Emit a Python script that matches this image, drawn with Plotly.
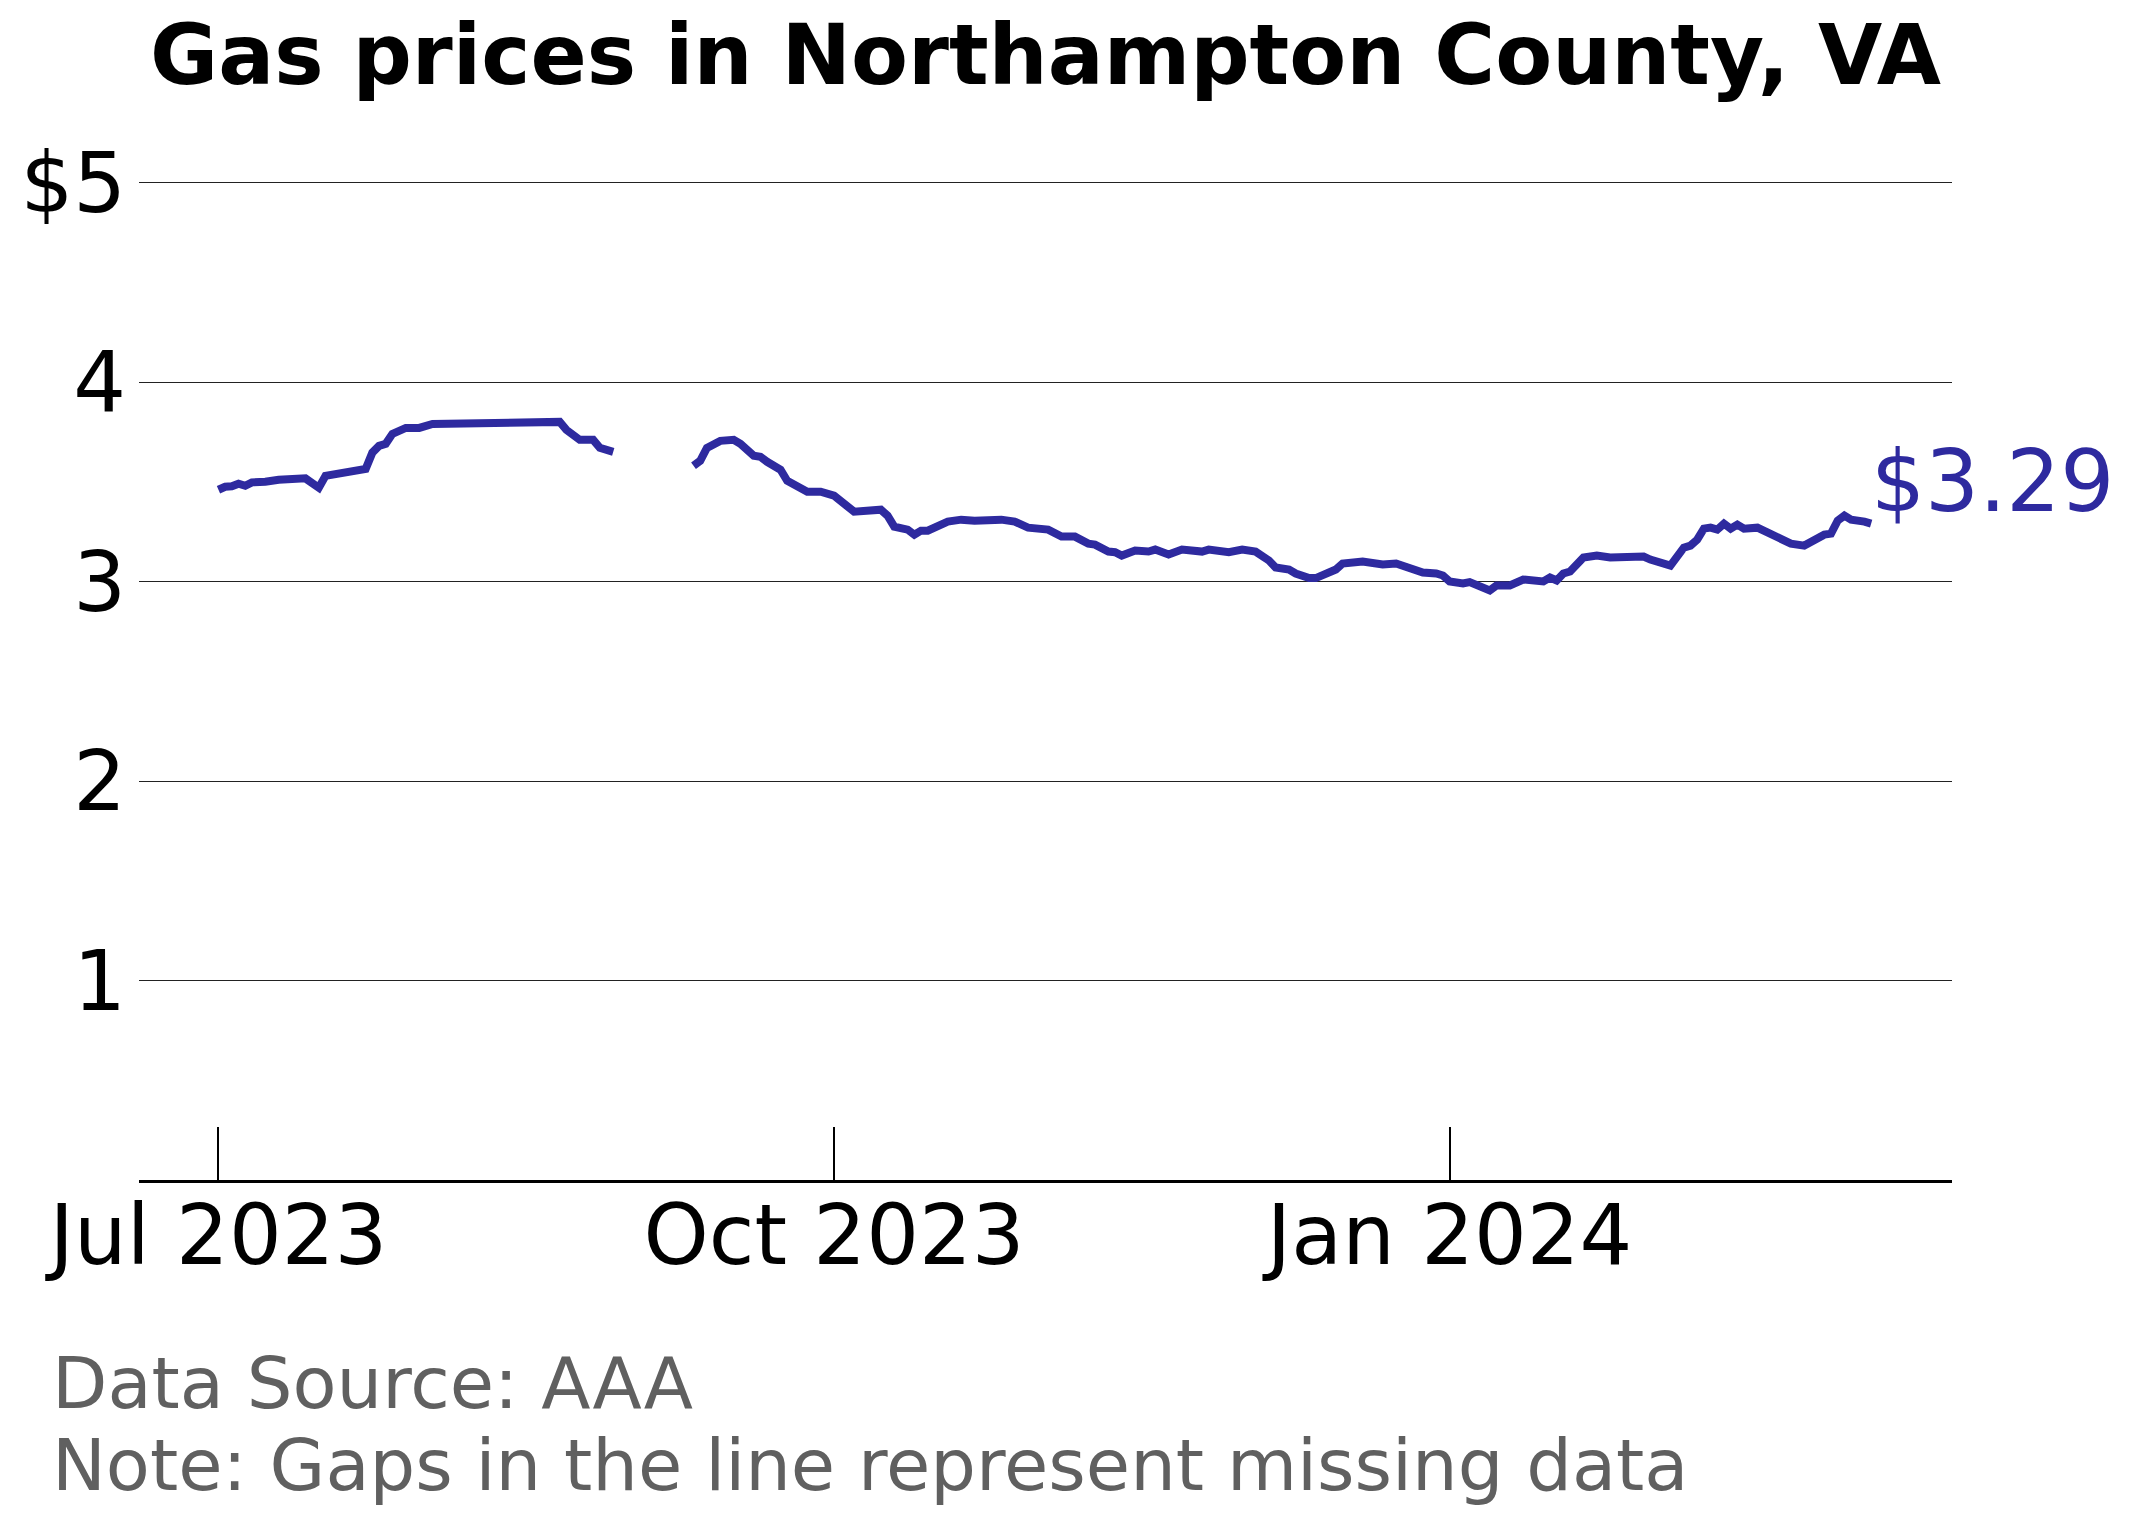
"""
Gas prices in Northampton County, VA: daily AAA average, Jul 2023 - Mar 2024.
Writes out.html
"""
import plotly.graph_objects as go

# Values; None marks the missing-data gap
dates = [
    "2023-07-01", "2023-07-02", "2023-07-03", "2023-07-04", "2023-07-05",
    "2023-07-06", "2023-07-08", "2023-07-10", "2023-07-14", "2023-07-16",
    "2023-07-17", "2023-07-20", "2023-07-23", "2023-07-24", "2023-07-25",
    "2023-07-26", "2023-07-27", "2023-07-29", "2023-07-31", "2023-08-02",
    "2023-08-03", "2023-08-10", "2023-08-12", "2023-08-14", "2023-08-16",
    "2023-08-21", "2023-08-22", "2023-08-24", "2023-08-26", "2023-08-27",
    "2023-08-29", "2023-09-04",
    "2023-09-10", "2023-09-11", "2023-09-12", "2023-09-13", "2023-09-14",
    "2023-09-16", "2023-09-17", "2023-09-19", "2023-09-20", "2023-09-21",
    "2023-09-23", "2023-09-24", "2023-09-26", "2023-09-27", "2023-09-29",
    "2023-10-01", "2023-10-04", "2023-10-06", "2023-10-08", "2023-10-09",
    "2023-10-10", "2023-10-12", "2023-10-13", "2023-10-14", "2023-10-15",
    "2023-10-18", "2023-10-20", "2023-10-22", "2023-10-26", "2023-10-28",
    "2023-10-30", "2023-11-02", "2023-11-04", "2023-11-06", "2023-11-08",
    "2023-11-09", "2023-11-11", "2023-11-12", "2023-11-13", "2023-11-15",
    "2023-11-17", "2023-11-18", "2023-11-20", "2023-11-22", "2023-11-25",
    "2023-11-26", "2023-11-28", "2023-11-29", "2023-12-01", "2023-12-03",
    "2023-12-05", "2023-12-06", "2023-12-08", "2023-12-09", "2023-12-11",
    "2023-12-12", "2023-12-15", "2023-12-16", "2023-12-19", "2023-12-22",
    "2023-12-24", "2023-12-26", "2023-12-28", "2023-12-30", "2023-12-31",
    "2024-01-01", "2024-01-03", "2024-01-04", "2024-01-06", "2024-01-07",
    "2024-01-08", "2024-01-09", "2024-01-10", "2024-01-12", "2024-01-14",
    "2024-01-15", "2024-01-16", "2024-01-17", "2024-01-18", "2024-01-19",
    "2024-01-21", "2024-01-23", "2024-01-25", "2024-01-28", "2024-01-30",
    "2024-01-31", "2024-02-01", "2024-02-02", "2024-02-03", "2024-02-05",
    "2024-02-06", "2024-02-07", "2024-02-08", "2024-02-09", "2024-02-10",
    "2024-02-11", "2024-02-12", "2024-02-13", "2024-02-14", "2024-02-16",
    "2024-02-17", "2024-02-18", "2024-02-19", "2024-02-21", "2024-02-23",
    "2024-02-24", "2024-02-25", "2024-02-26", "2024-02-27", "2024-02-28",
    "2024-02-29", "2024-03-01", "2024-03-03", "2024-03-04",
]
prices = [
    3.46, 3.475, 3.477, 3.49, 3.48,
    3.497, 3.50, 3.51, 3.517, 3.47,
    3.53, 3.55, 3.564, 3.646, 3.68,
    3.69, 3.74, 3.77, 3.77, 3.79,
    3.79, 3.79, 3.80, 3.80, 3.79,
    3.80, 3.76, 3.71, 3.71, 3.67,
    3.65, None,
    3.58, 3.605, 3.67, 3.685, 3.705,
    3.71, 3.69, 3.63, 3.625, 3.60,
    3.56, 3.505, 3.47, 3.45, 3.45,
    3.43, 3.35, 3.36, 3.36, 3.33,
    3.275, 3.26, 3.235, 3.255, 3.255,
    3.30, 3.31, 3.305, 3.31, 3.30,
    3.27, 3.26, 3.225, 3.225, 3.19,
    3.185, 3.15, 3.147, 3.13, 3.155,
    3.15, 3.16, 3.135, 3.16, 3.15,
    3.16, 3.147, 3.147, 3.16, 3.15,
    3.105, 3.07, 3.06, 3.04, 3.017,
    3.017, 3.06, 3.09, 3.10, 3.085,
    3.09, 3.065, 3.045, 3.04, 3.03,
    3.00, 2.99, 2.997, 2.975, 2.955,
    2.98, 2.98, 2.98, 3.01, 3.01,
    3.00, 3.02, 3.005, 3.04, 3.05,
    3.12, 3.13, 3.12, 3.12, 3.125,
    3.11, 3.10, 3.09, 3.08, 3.17,
    3.18, 3.21, 3.265, 3.27, 3.26,
    3.29, 3.265, 3.285, 3.265, 3.27,
    3.255, 3.23, 3.225, 3.19, 3.18,
    3.20, 3.22, 3.235, 3.24, 3.305,
    3.33, 3.31, 3.30, 3.29,
]

x_tickvals = ["2023-07-01", "2023-10-01", "2024-01-01"]
x_ticktext = ["Jul 2023", "Oct 2023", "Jan 2024"]
y_tickvals = [1, 2, 3, 4, 5]
y_ticktext = ["1", "2", "3", "4", "$5"]

title_text = "Gas prices in Northampton County, VA"
source_text = "Data Source: AAA"
note_text = "Note: Gaps in the line represent missing data"
last_label = "$3.29"

LINE = "#2e2a9f"
FONT = "DejaVu Sans"

fig = go.Figure()
fig.add_trace(go.Scatter(
    x=dates, y=prices, mode="lines", connectgaps=False,
    line=dict(color=LINE, width=8),
    hoverinfo="x+y", showlegend=False,
))

# label at the last point
fig.add_annotation(
    x=dates[-1], y=prices[-1], text=last_label, showarrow=False,
    xanchor="left", yanchor="middle", xshift=-2, yshift=42,
    font=dict(family=FONT, size=85, color=LINE),
)

# footer notes
fig.add_annotation(
    xref="paper", yref="paper", x=-0.0492, y=-0.1961, text=source_text,
    showarrow=False, xanchor="left", yanchor="middle",
    font=dict(family=FONT, size=72, color="#606060"),
)
fig.add_annotation(
    xref="paper", yref="paper", x=-0.0492, y=-0.2752, text=note_text,
    showarrow=False, xanchor="left", yanchor="middle",
    font=dict(family=FONT, size=72, color="#606060"),
)

fig.update_layout(
    width=2132, height=1524,
    margin=dict(l=129, r=188, t=135, b=352),
    paper_bgcolor="white", plot_bgcolor="white",
    font=dict(family=FONT, color="black"),
    title=dict(
        text=f"<b>{title_text}</b>",
        x=0.5, xref="paper", xanchor="center",
        y=1 - 47 / 1524, yref="container", yanchor="middle",
        font=dict(family=FONT, size=83, color="black"),
    ),
    xaxis=dict(
        type="date",
        range=["2023-06-19 03:00", "2024-03-16 02:00"],
        tickvals=x_tickvals, ticktext=x_ticktext,
        ticks="inside", ticklen=53, tickwidth=2, tickcolor="black",
        ticklabelstandoff=-18,
        showline=True, linecolor="black", linewidth=2.5,
        showgrid=False, zeroline=False,
        tickfont=dict(family=FONT, size=83, color="black"),
    ),
    yaxis=dict(
        range=[0, 5.198],
        tickvals=y_tickvals, ticktext=y_ticktext,
        ticks="", ticklabelstandoff=12,
        showgrid=True, gridcolor="#222222", gridwidth=1,
        showline=False, zeroline=False,
        tickfont=dict(family=FONT, size=83, color="black"),
    ),
)

fig.write_html("out.html")
